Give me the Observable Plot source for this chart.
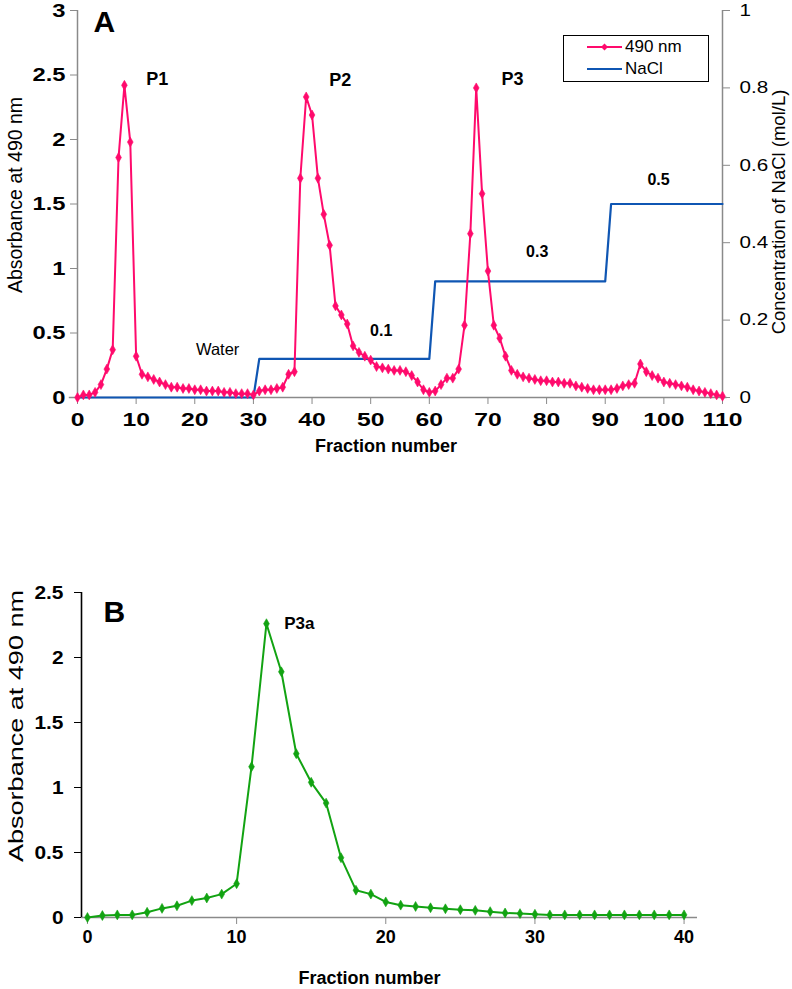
<!DOCTYPE html>
<html>
<head>
<meta charset="utf-8">
<script src="https://cdn.jsdelivr.net/npm/d3@7"></script>
<script src="https://cdn.jsdelivr.net/npm/@observablehq/plot@0.6"></script>
<style>
  html, body { margin: 0; padding: 0; background: #fff; }
  #wrap { position: relative; width: 792px; height: 989px; background: #fff; font-family: "Liberation Sans", Arial, sans-serif; }
  #wrap svg { display: block; }
  #legend { position: absolute; left: 563px; top: 35px; width: 144px; height: 45px; border: 1px solid #000; background: #fff; font-size: 17px; }
  #legend .row { position: absolute; left: 22px; height: 22px; display: flex; align-items: center; }
  #legend .row span { margin-left: 2px; }
</style>
</head>
<body>
<div id="wrap">
  <div id="panelA"></div>
  <div id="panelB"></div>
  <div id="legend">
    <div class="row" style="top:0px"><svg width="37" height="22"><line x1="1" y1="11" x2="36" y2="11" stroke="#ff0a6c" stroke-width="2"/><path d="M18.5,7.5L22,11L18.5,14.5L15,11Z" fill="#ff0a6c"/></svg><span>490 nm</span></div>
    <div class="row" style="top:22px"><svg width="37" height="22"><line x1="1" y1="11" x2="36" y2="11" stroke="#0f56b3" stroke-width="2.2"/></svg><span>NaCl</span></div>
  </div>
</div>
<script>
// ---------- Panel A data ----------
const fractionsA = d3.range(0, 111);
const absorbanceA = [
  0.00, 0.02, 0.02, 0.04, 0.10, 0.22, 0.37, 1.86, 2.42, 1.98,
  0.32, 0.18, 0.16, 0.14, 0.12, 0.10, 0.08, 0.08, 0.07, 0.07,
  0.06, 0.06, 0.05, 0.05, 0.05, 0.04, 0.04, 0.03, 0.03, 0.03,
  0.02, 0.05, 0.06, 0.06, 0.07, 0.08, 0.18, 0.20, 1.70, 2.33,
  2.19, 1.70, 1.42, 1.18, 0.71, 0.64, 0.57, 0.40, 0.35, 0.32,
  0.29, 0.24, 0.23, 0.22, 0.21, 0.21, 0.20, 0.17, 0.12, 0.06,
  0.04, 0.05, 0.10, 0.15, 0.15, 0.22, 0.56, 1.27, 2.40, 1.58,
  0.98, 0.56, 0.46, 0.32, 0.21, 0.18, 0.16, 0.15, 0.14, 0.13,
  0.13, 0.12, 0.12, 0.11, 0.11, 0.09, 0.08, 0.07, 0.06, 0.06,
  0.06, 0.06, 0.07, 0.09, 0.10, 0.11, 0.26, 0.20, 0.17, 0.15,
  0.12, 0.11, 0.10, 0.09, 0.08, 0.06, 0.05, 0.04, 0.03, 0.02,
  0.01
];
const naclFractions = [0, 30, 31, 60, 61, 90, 91, 110];
const naclConc      = [0, 0, 0.1, 0.1, 0.3, 0.3, 0.5, 0.5];
const xTicksA = [0, 10, 20, 30, 40, 50, 60, 70, 80, 90, 100, 110];
const yTicksA = [0, 0.5, 1, 1.5, 2, 2.5, 3];
const naclTicks = [0, 0.2, 0.4, 0.6, 0.8, 1];
const peakLabelsA = [
  {label: "P1", f: 13.6, v: 2.47},
  {label: "P2", f: 44.8, v: 2.46},
  {label: "P3", f: 74.2, v: 2.47}
];
const waterLabel = [{label: "Water", f: 23.9, c: 0.124}];
const stepLabels = [
  {label: "0.1", f: 51.8, c: 0.171},
  {label: "0.3", f: 78.4, c: 0.377},
  {label: "0.5", f: 99.1, c: 0.563}
];

// ---------- Panel B data ----------
const fractionsB = d3.range(0, 41);
const absorbanceB = [
  0.00, 0.015, 0.02, 0.02, 0.04, 0.07, 0.09, 0.13, 0.15, 0.18,
  0.26, 1.16, 2.26, 1.89, 1.26, 1.04, 0.88, 0.46, 0.21, 0.18,
  0.12, 0.095, 0.085, 0.075, 0.067, 0.06, 0.055, 0.045, 0.035, 0.03,
  0.025, 0.02, 0.02, 0.02, 0.02, 0.02, 0.02, 0.02, 0.02, 0.02,
  0.02
];
const xTicksB = [0, 10, 20, 30, 40];
const yTicksB = [0, 0.5, 1, 1.5, 2, 2.5];
const peakLabelsB = [{label: "P3a", f: 14.2, v: 2.26}];

// ---------- styles ----------
const PINK = "#ff0a6c", BLUE = "#0f56b3", GREEN = "#12a312", AXIS = "#8a8a8a";
const FONT = "'Liberation Sans', Arial, sans-serif";

const NACL_MAX = 1, ABS_MAX = 3, k = ABS_MAX / NACL_MAX;
const dataA = fractionsA.map((f, i) => ({f, v: absorbanceA[i]}));
const naclData = naclFractions.map((f, i) => ({f, c: naclConc[i]}));
const fmt = d => String(+d.toFixed(2));

const chartA = Plot.plot({
  width: 792, height: 470,
  marginLeft: 77, marginRight: 70, marginTop: 10, marginBottom: 73,
  style: {fontFamily: FONT, fontSize: "17px", color: "#000", background: "#fff", overflow: "visible"},
  x: {domain: [0, 110]},
  y: {domain: [0, 3]},
  marks: [
    Plot.ruleY([0], {x1: -1.4, x2: 110.8, stroke: AXIS, strokeWidth: 1.5, clip: false}),
    Plot.ruleX([0], {stroke: AXIS, strokeWidth: 1.5}),
    Plot.ruleX([110], {stroke: AXIS, strokeWidth: 1.5}),
    Plot.axisY({anchor: "left", ticks: yTicksA, tickFormat: fmt, tickSize: 7, stroke: AXIS, fill: "#000", fontWeight: "bold", fontSize: 19, tickPadding: 5, label: null}),
    Plot.axisY({anchor: "right", ticks: naclTicks.map(t => t * k), tickFormat: d => fmt(d / k), tickSize: 7, stroke: AXIS, fill: "#000", fontSize: 16.5, tickPadding: 10, label: null}),
    Plot.axisX({ticks: xTicksA, tickFormat: fmt, tickSize: 7, stroke: AXIS, fill: "#000", fontWeight: "bold", fontSize: 19, tickPadding: 8, label: null}),
    Plot.text(["Absorbance at 490 nm"], {frameAnchor: "left", textAnchor: "middle", lineAnchor: "middle", rotate: -90, dx: -62, dy: -9, fontSize: 19.5, fill: "#000"}),
    Plot.text(["Concentration of NaCl (mol/L)"], {frameAnchor: "right", textAnchor: "middle", lineAnchor: "middle", rotate: -90, dx: 57, dy: 8, fontSize: 18.5, fill: "#000"}),
    Plot.text(["Fraction number"], {frameAnchor: "bottom", textAnchor: "middle", lineAnchor: "middle", dx: -14, dy: 49, fontSize: 18, fontWeight: "bold", fill: "#000"}),
    Plot.text(["A"], {frameAnchor: "top-left", dx: 16, dy: 0, fontSize: 30, fontWeight: "bold", fill: "#000"}),
    Plot.line(naclData, {x: "f", y: d => d.c * k, stroke: BLUE, strokeWidth: 2.2}),
    Plot.line(dataA, {x: "f", y: "v", stroke: PINK, strokeWidth: 2}),
    Plot.dot(dataA, {x: "f", y: "v", symbol: "diamond", r: 3, fill: PINK, stroke: PINK, strokeWidth: 0.6}),
    Plot.text(peakLabelsA, {x: "f", y: "v", text: "label", fontSize: 18, fontWeight: "bold", fill: "#000"}),
    Plot.text(waterLabel, {x: "f", y: d => d.c * k, text: "label", fontSize: 16.5, fill: "#000"}),
    Plot.text(stepLabels, {x: "f", y: d => d.c * k, text: "label", fontSize: 16, fontWeight: "bold", fill: "#000"})
  ]
});
document.getElementById("panelA").appendChild(chartA);

const dataB = fractionsB.map((f, i) => ({f, v: absorbanceB[i]}));
const chartB = Plot.plot({
  width: 792, height: 519,
  marginLeft: 81, marginRight: 95, marginTop: 122, marginBottom: 72,
  style: {fontFamily: FONT, fontSize: "17px", color: "#000", background: "#fff", overflow: "visible"},
  x: {domain: [-0.4, 40.9]},
  y: {domain: [0, 2.5]},
  marks: [
    Plot.ruleY([0], {stroke: AXIS, strokeWidth: 1.5}),
    Plot.ruleX([-0.4], {stroke: "#000", strokeWidth: 1.6}),
    Plot.axisY({anchor: "left", ticks: yTicksB, tickFormat: fmt, tickSize: 7, stroke: "#000", fill: "#000", fontWeight: "bold", fontSize: 19, tickPadding: 11, label: null}),
    Plot.axisX({ticks: xTicksB, tickFormat: fmt, tickSize: 7, stroke: AXIS, fill: "#000", fontWeight: "bold", fontSize: 18, tickPadding: 6, label: null}),
    Plot.text(["Absorbance at 490 nm"], {frameAnchor: "left", textAnchor: "middle", lineAnchor: "middle", rotate: -90, dx: -65, dy: -29, fontSize: 19.5, fill: "#000"}),
    Plot.text(["Fraction number"], {frameAnchor: "bottom", textAnchor: "middle", lineAnchor: "middle", dx: -20, dy: 61, fontSize: 18, fontWeight: "bold", fill: "#000"}),
    Plot.text(["B"], {frameAnchor: "top-left", dx: 22, dy: 8, fontSize: 30, fontWeight: "bold", fill: "#000"}),
    Plot.line(dataB, {x: "f", y: "v", stroke: GREEN, strokeWidth: 2}),
    Plot.dot(dataB, {x: "f", y: "v", symbol: "diamond", r: 3, fill: GREEN, stroke: GREEN, strokeWidth: 0.6}),
    Plot.text(peakLabelsB, {x: "f", y: "v", text: "label", fontSize: 17, fontWeight: "bold", fill: "#000"})
  ]
});
document.getElementById("panelB").appendChild(chartB);

// widen text horizontally where the original figure's glyphs are stretched
function stretchTexts(nodes, factor, fixedLength) {
  nodes.forEach(t => {
    const len = t.getComputedTextLength();
    if (!len) return;
    t.setAttribute("textLength", fixedLength || len * factor);
    t.setAttribute("lengthAdjust", "spacingAndGlyphs");
  });
}
stretchTexts(chartA.querySelectorAll('g[aria-label="x-axis tick label"] text'), 1.3);
stretchTexts(chartA.querySelectorAll('g[aria-label="y-axis tick label"] text'), 1.25);
stretchTexts(chartB.querySelectorAll('g[aria-label="y-axis tick label"] text'), 1.1);
const bTitle = Array.from(chartB.querySelectorAll("text")).filter(t => t.textContent === "Absorbance at 490 nm");
stretchTexts(bTitle, 1, 272);
</script>
</body>
</html>
